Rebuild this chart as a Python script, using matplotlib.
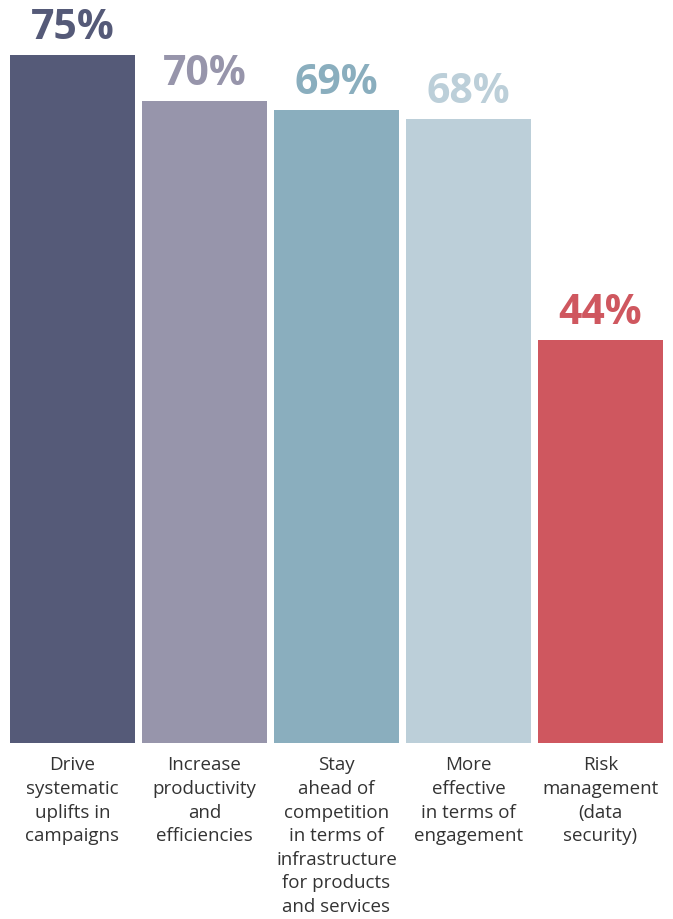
import matplotlib
matplotlib.use("Agg")
import matplotlib.pyplot as plt
from matplotlib.transforms import offset_copy

categories = [
    "Drive\nsystematic\nuplifts in\ncampaigns",
    "Increase\nproductivity\nand\nefficiencies",
    "Stay\nahead of\ncompetition\nin terms of\ninfrastructure\nfor products\nand services",
    "More\neffective\nin terms of\nengagement",
    "Risk\nmanagement\n(data\nsecurity)",
]
values = [75, 70, 69, 68, 44]
colors = ["#555a78", "#9795ab", "#8aaebe", "#bccfd9", "#cf575f"]

W, H = 673, 920
fig = plt.figure(figsize=(W / 100, H / 100), dpi=100)
# axes placed in pixel terms: y=0 at 744px from top, 9.17 px per percent
ax = fig.add_axes([6.5 / W, 176 / H, 660 / W, 80 * 9.17 / H])

x = list(range(len(values)))
ax.bar(x, values, width=125 / 132, color=colors)
ax.set_xlim(-0.5, 4.5)
ax.set_ylim(0, 80)
ax.axis("off")

for xi, v, c in zip(x, values, colors):
    t = offset_copy(ax.transData, fig=fig, x=0, y=5, units="points")
    ax.text(xi, v, f"{v}%", transform=t, ha="center", va="bottom",
            fontsize=29.5, fontweight="bold", color=c, family="Open Sans")

for xi, lab in zip(x, categories):
    t = offset_copy(ax.transData, fig=fig, x=0, y=-9, units="points")
    ax.text(xi, 0, lab, transform=t, ha="center", va="top",
            fontsize=13.5, color="#333333", family="Open Sans", linespacing=1.4)

fig.savefig("out.png", dpi=100)
